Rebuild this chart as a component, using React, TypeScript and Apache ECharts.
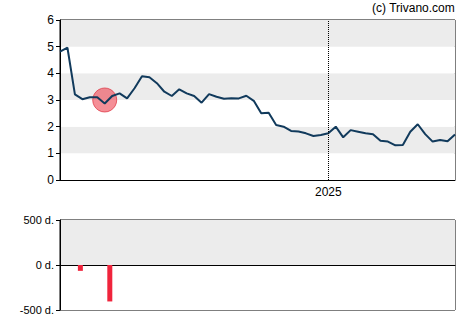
import React, { useEffect, useRef } from "react";
import * as echarts from "echarts";

const dates = [
  "2024-04-24", "2024-05-01", "2024-05-08", "2024-05-15", "2024-05-22", "2024-05-29",
  "2024-06-05", "2024-06-12", "2024-06-19", "2024-06-26", "2024-07-03", "2024-07-10",
  "2024-07-17", "2024-07-24", "2024-07-31", "2024-08-07", "2024-08-14", "2024-08-21",
  "2024-08-28", "2024-09-04", "2024-09-11", "2024-09-18", "2024-09-25", "2024-10-02",
  "2024-10-09", "2024-10-16", "2024-10-23", "2024-10-30", "2024-11-06", "2024-11-13",
  "2024-11-20", "2024-11-27", "2024-12-04", "2024-12-11", "2024-12-18", "2024-12-25",
  "2025-01-01", "2025-01-08", "2025-01-15", "2025-01-22", "2025-01-29", "2025-02-05",
  "2025-02-12", "2025-02-19", "2025-02-26", "2025-03-05", "2025-03-12", "2025-03-19",
  "2025-03-26", "2025-04-02", "2025-04-09", "2025-04-16", "2025-04-23", "2025-04-30",
];

const prices = [
  4.81, 4.96, 3.21, 3.03, 3.10, 3.10, 2.87, 3.15, 3.25, 3.06,
  3.44, 3.89, 3.85, 3.63, 3.31, 3.15, 3.40, 3.25, 3.15, 2.90,
  3.22, 3.12, 3.05, 3.07, 3.06, 3.16, 2.97, 2.50, 2.52, 2.06,
  2.00, 1.84, 1.82, 1.75, 1.65, 1.69, 1.75, 2.00, 1.60, 1.87,
  1.81, 1.75, 1.72, 1.47, 1.44, 1.30, 1.31, 1.81, 2.09, 1.72,
  1.44, 1.50, 1.45, 1.71,
];

const markerDates = ["2024-06-05"];
const markerValues = [3.0];

const barDates = ["2024-05-11", "2024-06-08"];
const barValues = [-65, -405];

const yearMark = "2025-01-01";
const yearLabel = "2025";
const priceTicks = [0, 6, 1];
const dayTicks = [-500, 500, 500];
const copyright = "(c) Trivano.com";

const FONT = "Arial, 'Liberation Sans', sans-serif";

export default function App() {
  const ref = useRef<HTMLDivElement>(null);
  useEffect(() => {
    if (!ref.current) return;
    const chart = echarts.init(ref.current, undefined, { renderer: "svg" });
    const tMin = dates[0];
    const tMax = dates[dates.length - 1];
    chart.setOption({
      animation: false,
      textStyle: { fontFamily: FONT },
      graphic: [
        {
          type: "text",
          right: 15,
          top: 2,
          style: { text: copyright, font: "12px " + FONT, fill: "#000" },
        },
      ],
      grid: [
        { left: 60, right: 15, top: 20, height: 160, show: true, borderColor: "#000", borderWidth: 1, backgroundColor: "transparent" },
        { left: 60, right: 15, top: 220, height: 90, show: true, borderColor: "#000", borderWidth: 1, backgroundColor: "transparent" },
      ],
      xAxis: [
        {
          type: "time",
          gridIndex: 0,
          min: tMin,
          max: tMax,
          axisLine: { show: true, lineStyle: { color: "#000", width: 1 } },
          axisTick: { show: false },
          axisLabel: { show: false },
          splitLine: { show: false },
        },
        {
          type: "time",
          gridIndex: 1,
          min: tMin,
          max: tMax,
          axisLine: { show: true, onZero: true, lineStyle: { color: "#000", width: 1 } },
          axisTick: { show: false },
          axisLabel: { show: false },
          splitLine: { show: false },
        },
      ],
      yAxis: [
        {
          type: "value",
          gridIndex: 0,
          min: priceTicks[0],
          max: priceTicks[1],
          interval: priceTicks[2],
          axisLine: { show: true, lineStyle: { color: "#000" } },
          axisTick: { show: true, length: 4, lineStyle: { color: "#000" } },
          axisLabel: { color: "#000", fontSize: 12, fontFamily: FONT, margin: 6 },
          splitLine: { show: false },
          splitArea: { show: true, areaStyle: { color: ["#ffffff", "#ececec"] } },
        },
        {
          type: "value",
          gridIndex: 1,
          min: dayTicks[0],
          max: dayTicks[1],
          interval: dayTicks[2],
          axisLine: { show: true, lineStyle: { color: "#000" } },
          axisTick: { show: true, length: 4, lineStyle: { color: "#000" } },
          axisLabel: { color: "#000", fontSize: 11, fontFamily: FONT, margin: 6, formatter: (v: number) => `${v} d.` },
          splitLine: { show: false },
          splitArea: { show: true, areaStyle: { color: ["#ffffff", "#ececec"] } },
        },
      ],
      series: [
        {
          type: "scatter",
          xAxisIndex: 0,
          yAxisIndex: 0,
          z: 1,
          symbolSize: 24,
          itemStyle: { color: "rgba(238,60,75,0.72)", borderColor: "rgba(220,40,55,0.85)", borderWidth: 1 },
          data: markerDates.map((d, i) => [d, markerValues[i]]),
        },
        {
          type: "line",
          xAxisIndex: 0,
          yAxisIndex: 0,
          z: 3,
          symbol: "none",
          lineStyle: { color: "#113a5c", width: 2 },
          data: dates.map((d, i) => [d, prices[i]]),
          markLine: {
            silent: true,
            symbol: "none",
            label: {
              show: true,
              position: "start",
              formatter: yearLabel,
              color: "#000",
              fontSize: 12,
              fontFamily: FONT,
              distance: 6,
            },
            lineStyle: { color: "#000", type: "dotted", width: 1 },
            data: [{ xAxis: yearMark }],
          },
        },
        {
          type: "bar",
          xAxisIndex: 1,
          yAxisIndex: 1,
          barWidth: 5,
          itemStyle: { color: "#f0243c" },
          data: barDates.map((d, i) => [d, barValues[i]]),
        },
      ],
    });
    return () => chart.dispose();
  }, []);
  return <div ref={ref} style={{ width: 470, height: 325, position: "absolute", left: 0, top: 0 }} />;
}
